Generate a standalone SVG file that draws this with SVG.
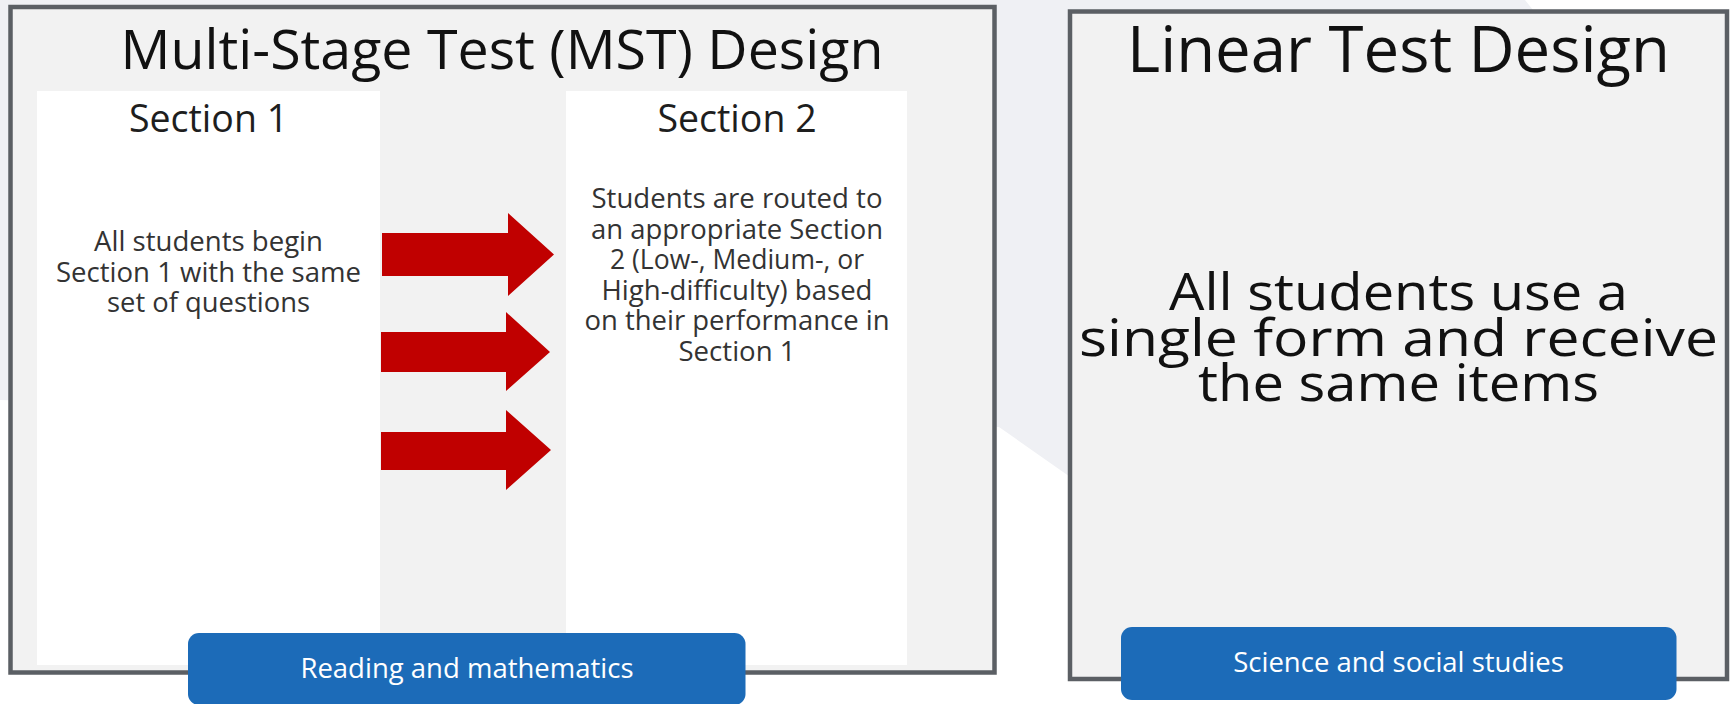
<svg xmlns="http://www.w3.org/2000/svg" width="1733" height="704" viewBox="0 0 1733 704">
  <style>
    .panel { fill: #f2f2f2; stroke: #5b5f64; stroke-width: 4.5; }
    .section { fill: #ffffff; }
    .t { font-family: "Open Sans", "Noto Sans", "Liberation Sans", sans-serif; text-anchor: middle; }
    .title { fill: #111111; }
    .head { fill: #1e1e1e; }
    .body { fill: #333333; font-size: 27px; }
    .big { fill: #111111; font-size: 52px; }
    .btn { fill: #1c6bb8; }
    .btntext { fill: #ffffff; font-size: 27.5px; }
    .arrow { fill: #c00000; }
  </style>
  <rect x="0" y="0" width="1733" height="704" fill="#ffffff"/>
  <polygon points="0,0 1525,0 1545,25 1200,568 999,427 0,400" fill="#eff0f4"/>

  <g id="mst-panel">
    <rect class="panel" x="10.5" y="7" width="984" height="665.5"/>
    <text class="t title" x="502" y="69" font-size="55.5">Multi-Stage Test (MST) Design</text>
  </g>

  <g id="section1">
    <rect class="section" x="37" y="91" width="343" height="574"/>
    <text class="t head" x="208.5" y="132" font-size="37.5">Section 1</text>
    <text class="t body" x="208.5" y="251" textLength="229" lengthAdjust="spacingAndGlyphs">All students begin</text>
    <text class="t body" x="208.5" y="281.5" textLength="305" lengthAdjust="spacingAndGlyphs">Section 1 with the same</text>
    <text class="t body" x="208.5" y="312" textLength="203" lengthAdjust="spacingAndGlyphs">set of questions</text>
  </g>

  <g id="section2">
    <rect class="section" x="566" y="91" width="341" height="574"/>
    <text class="t head" x="737" y="132" font-size="37.5">Section 2</text>
    <text class="t body" x="737" y="208" textLength="291" lengthAdjust="spacingAndGlyphs">Students are routed to</text>
    <text class="t body" x="737" y="238.5" textLength="292" lengthAdjust="spacingAndGlyphs">an appropriate Section</text>
    <text class="t body" x="737" y="269" textLength="254" lengthAdjust="spacingAndGlyphs">2 (Low-, Medium-, or</text>
    <text class="t body" x="737" y="299.5" textLength="271" lengthAdjust="spacingAndGlyphs">High-difficulty) based</text>
    <text class="t body" x="737" y="330" textLength="305" lengthAdjust="spacingAndGlyphs">on their performance in</text>
    <text class="t body" x="737" y="360.5" textLength="117" lengthAdjust="spacingAndGlyphs">Section 1</text>
  </g>

  <g id="connectors">
    <polygon class="arrow" points="382,233 508,233 508,213 554,254.5 508,296 508,276 382,276"/>
    <polygon class="arrow" points="381,332 506,332 506,312 550,352 506,391 506,372 381,372"/>
    <polygon class="arrow" points="381,432 506,432 506,410 551,450 506,490 506,470 381,470"/>
  </g>

  <g id="reading-button">
    <rect class="btn" x="188" y="633" width="557.5" height="72" rx="11"/>
    <text class="t btntext" x="467" y="678">Reading and mathematics</text>
  </g>

  <g id="linear-panel">
    <rect class="panel" x="1070" y="11.5" width="657" height="667.5"/>
    <text class="t title" x="1398.5" y="72" font-size="63.5">Linear Test Design</text>
    <text class="t big" x="1398.5" y="310" textLength="459" lengthAdjust="spacingAndGlyphs">All students use a</text>
    <text class="t big" x="1398.5" y="355.5" textLength="639" lengthAdjust="spacingAndGlyphs">single form and receive</text>
    <text class="t big" x="1398.5" y="401" textLength="401" lengthAdjust="spacingAndGlyphs">the same items</text>
  </g>

  <g id="science-button">
    <rect class="btn" x="1121" y="627" width="555.5" height="73" rx="11"/>
    <text class="t btntext" x="1398.5" y="672">Science and social studies</text>
  </g>
</svg>
